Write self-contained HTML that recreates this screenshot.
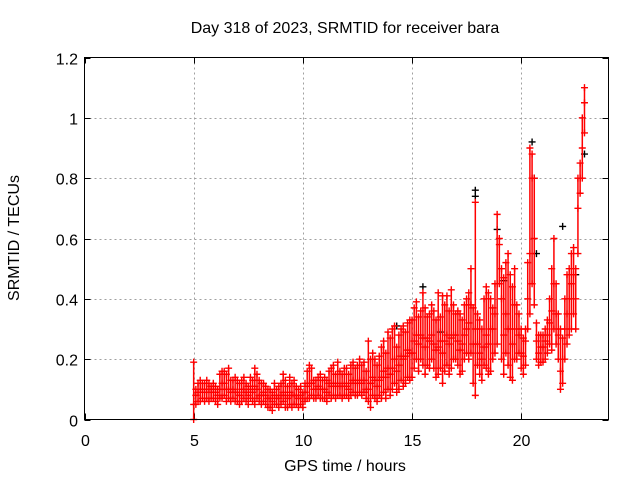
<!DOCTYPE html>
<html><head><meta charset="utf-8"><style>
html,body{margin:0;padding:0;background:#fff;}
svg text{font-family:"Liberation Sans",sans-serif;font-size:16px;fill:#000;}
</style></head><body>
<svg id="chart" width="640" height="480" xmlns="http://www.w3.org/2000/svg">
<rect width="640" height="480" fill="#fff"/>
<text x="345" y="33" text-anchor="middle">Day 318 of 2023, SRMTID for receiver bara</text>
<text x="345" y="471" text-anchor="middle">GPS time / hours</text>
<text transform="translate(19,238) rotate(-90)" text-anchor="middle">SRMTID / TECUs</text>
<g id="grid"></g>
<g id="ticks"></g>
<g id="marks"></g>
<rect x="84.5" y="57.5" width="524" height="362" fill="none" stroke="#000" stroke-width="1"/>
</svg>
<script>
const xTicks=[0,5,10,15,20];
const yTicks=[0,0.2,0.4,0.6,0.8,1,1.2];
const yTickLabels=["0","0.2","0.4","0.6","0.8","1","1.2"];
const tStart=5.0, tStep=0.1;
const redLow=[0.0,0.05,0.06,0.06,0.07,0.06,0.07,0.06,0.07,0.07,
0.06,0.05,0.07,0.07,0.08,0.06,0.07,0.06,0.07,0.06,
0.06,0.05,0.06,0.07,0.06,0.05,0.07,0.06,0.05,0.07,
0.06,0.05,0.06,0.05,0.04,0.04,0.03,0.05,0.05,0.04,
0.05,0.06,0.04,0.04,0.05,0.04,0.05,0.05,0.04,0.05,
0.04,0.06,0.07,0.07,0.08,0.07,0.07,0.08,0.07,0.07,
0.07,0.06,0.08,0.07,0.08,0.07,0.08,0.08,0.07,0.08,
0.08,0.07,0.08,0.09,0.08,0.08,0.09,0.08,0.09,0.07,
0.06,0.04,0.08,0.07,0.06,0.08,0.07,0.09,0.07,0.1,
0.08,0.1,0.12,0.09,0.1,0.13,0.11,0.12,0.14,0.13,
0.14,0.17,0.2,0.16,0.2,0.18,0.15,0.18,0.17,0.2,
0.17,0.14,0.15,0.17,0.12,0.16,0.18,0.15,0.17,0.2,
0.2,0.18,0.15,0.16,0.2,0.22,0.2,0.22,0.12,0.08,
0.18,0.15,0.13,0.18,0.17,0.15,0.16,0.2,0.22,0.25,
0.45,0.2,0.15,0.22,0.18,0.14,0.13,0.2,0.2,0.22,
0.17,0.15,0.18,0.3,0.35,0.45,0.38,0.2,0.18,0.19,
0.19,0.2,0.22,0.25,0.23,0.3,0.25,0.2,0.1,0.12,
0.2,0.25,0.28,0.3,0.35,0.3,0.55,0.75,0.8,0.95];
const redMid=[0.05,0.08,0.09,0.1,0.1,0.09,0.1,0.1,0.09,0.1,
0.09,0.08,0.1,0.12,0.12,0.1,0.1,0.09,0.1,0.09,
0.09,0.08,0.1,0.1,0.09,0.08,0.1,0.09,0.11,0.1,
0.08,0.08,0.09,0.08,0.07,0.07,0.06,0.08,0.07,0.07,
0.08,0.09,0.08,0.07,0.09,0.08,0.08,0.08,0.07,0.08,
0.07,0.09,0.11,0.12,0.12,0.1,0.1,0.11,0.1,0.1,
0.1,0.09,0.12,0.11,0.12,0.11,0.12,0.11,0.11,0.12,
0.11,0.1,0.12,0.13,0.12,0.12,0.13,0.12,0.13,0.1,
0.1,0.12,0.14,0.13,0.11,0.13,0.14,0.16,0.14,0.17,
0.15,0.17,0.2,0.16,0.18,0.21,0.2,0.21,0.23,0.22,
0.22,0.26,0.28,0.25,0.28,0.27,0.24,0.27,0.26,0.28,
0.25,0.23,0.24,0.26,0.22,0.26,0.28,0.25,0.27,0.28,
0.28,0.26,0.23,0.25,0.28,0.3,0.32,0.38,0.25,0.3,
0.25,0.22,0.2,0.24,0.28,0.25,0.3,0.3,0.35,0.45,
0.58,0.4,0.28,0.35,0.3,0.3,0.25,0.38,0.3,0.28,
0.22,0.21,0.26,0.4,0.55,0.8,0.6,0.26,0.22,0.24,
0.24,0.26,0.28,0.32,0.36,0.45,0.35,0.28,0.16,0.2,
0.3,0.35,0.4,0.45,0.48,0.4,0.7,0.8,0.9,1.05];
const redHigh=[0.19,0.1,0.12,0.13,0.12,0.12,0.13,0.12,0.11,0.12,
0.11,0.1,0.15,0.16,0.16,0.15,0.17,0.13,0.13,0.14,
0.13,0.12,0.13,0.14,0.12,0.11,0.14,0.13,0.17,0.15,
0.13,0.12,0.12,0.11,0.1,0.1,0.09,0.12,0.1,0.11,
0.12,0.15,0.13,0.11,0.14,0.12,0.13,0.11,0.1,0.11,
0.09,0.12,0.16,0.18,0.17,0.13,0.13,0.14,0.15,0.13,
0.14,0.13,0.16,0.17,0.18,0.15,0.19,0.16,0.15,0.17,
0.17,0.15,0.18,0.19,0.17,0.18,0.2,0.18,0.19,0.16,
0.26,0.2,0.22,0.2,0.18,0.21,0.24,0.26,0.22,0.29,
0.27,0.3,0.31,0.24,0.28,0.3,0.31,0.29,0.32,0.33,
0.33,0.37,0.39,0.34,0.36,0.42,0.37,0.34,0.35,0.38,
0.36,0.33,0.42,0.34,0.41,0.38,0.41,0.36,0.43,0.38,
0.35,0.36,0.35,0.33,0.38,0.4,0.42,0.5,0.37,0.72,
0.35,0.33,0.3,0.4,0.44,0.42,0.4,0.37,0.45,0.68,
0.6,0.5,0.47,0.52,0.55,0.48,0.44,0.5,0.38,0.35,
0.3,0.27,0.3,0.52,0.9,0.88,0.8,0.32,0.28,0.28,
0.28,0.3,0.33,0.4,0.5,0.6,0.45,0.35,0.3,0.27,
0.4,0.48,0.5,0.55,0.57,0.5,0.8,0.85,1.0,1.1];
const blackT=[14.3,15.5,16.3,17.9,17.9,18.9,19.2,20.5,20.6,20.7,21.9,22.5,22.9];
const blackV=[0.31,0.44,0.29,0.76,0.74,0.63,0.46,0.92,0.8,0.55,0.64,0.48,0.88];

const X0=84.5,X1=608.5,Y0=419.5,Y1=57.5;
function sx(t){return X0+(t/24)*(X1-X0);}
function sy(v){return Y0-(v/1.2)*(Y0-Y1);}
const NS="http://www.w3.org/2000/svg";
function mk(tag,attrs,parent){const e=document.createElementNS(NS,tag);for(const k in attrs)e.setAttribute(k,attrs[k]);parent.appendChild(e);return e;}
const grid=document.getElementById('grid'),ticks=document.getElementById('ticks'),marks=document.getElementById('marks');
xTicks.forEach(t=>{const x=Math.round(sx(t))+0.5;
 if(t>0){const g=mk('line',{x1:x,x2:x,y1:Y0,y2:Y1,stroke:'#a0a0a0','stroke-dasharray':'2,3'},grid);
 
 }
 mk('line',{x1:x,x2:x,y1:Y0,y2:Y0-6,stroke:'#000'},ticks);
 mk('line',{x1:x,x2:x,y1:Y1,y2:Y1+6,stroke:'#000'},ticks);
 const l=mk('text',{x:x,y:446,'text-anchor':'middle'},ticks);l.textContent=String(t);
 
 });
yTicks.forEach((v,i)=>{const y=Math.round(sy(v))+0.5;
 if(v>0&&v<1.2){const g=mk('line',{x1:X0,x2:X1,y1:y,y2:y,stroke:'#a0a0a0','stroke-dasharray':'2,3'},grid);
 
 }
 mk('line',{x1:X0,x2:X0+6,y1:y,y2:y,stroke:'#000'},ticks);
 mk('line',{x1:X1,x2:X1-6,y1:y,y2:y,stroke:'#000'},ticks);
 const l=mk('text',{x:78,y:y+6,'text-anchor':'end'},ticks);l.textContent=yTickLabels[i];
 
 });
function plus(x,y,c){const p=mk('path',{d:`M${x-3.5},${y}h7M${x},${y-3.5}v7`,stroke:c,'stroke-width':1.4,fill:'none'},marks);
 
 }
blackT.forEach((t,i)=>plus(sx(t),sy(blackV[i]),'#000'));
redLow.forEach((v,i)=>{const t=tStart+i*tStep,x=sx(t);
 const r=mk('line',{x1:x,x2:x,y1:sy(v),y2:sy(redHigh[i]),stroke:'#f00','stroke-width':1.5},marks);
 
 
 plus(x,sy(v),'#f00');plus(x,sy(redMid[i]),'#f00');plus(x,sy(redHigh[i]),'#f00');});
</script>
</body></html>
